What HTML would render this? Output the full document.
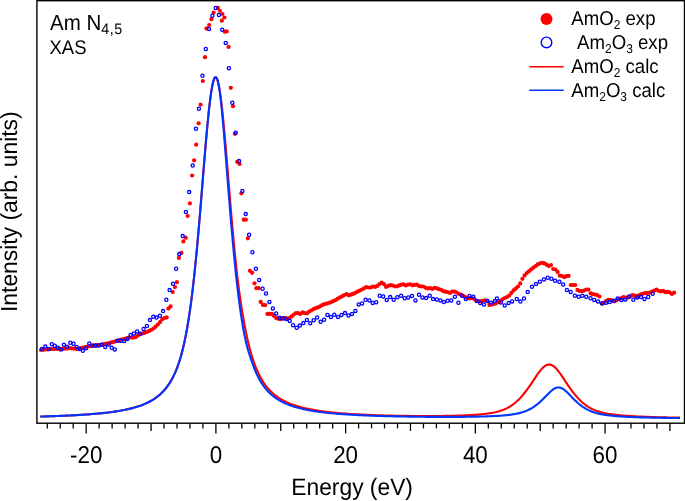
<!DOCTYPE html>
<html><head><meta charset="utf-8"><style>
html,body{margin:0;padding:0;background:#fff;width:685px;height:501px;overflow:hidden}
svg{position:absolute;left:0;top:0;will-change:transform}
svg text{font-family:"Liberation Sans",sans-serif;fill:#000;text-rendering:geometricPrecision}
</style></head><body>
<svg width="685" height="501" viewBox="0 0 685 501" style="position:absolute;left:0;top:0">
<path d="M40.30,416.58L42.30,416.52 44.30,416.46 46.30,416.40 48.30,416.34 50.30,416.27 52.30,416.20 54.30,416.13 56.30,416.06 58.30,415.98 60.30,415.90 62.30,415.82 64.30,415.73 66.30,415.64 68.30,415.55 70.30,415.45 72.30,415.35 74.30,415.25 76.30,415.14 78.30,415.02 80.30,414.90 82.30,414.78 84.30,414.65 86.30,414.51 88.30,414.37 90.30,414.22 92.30,414.06 94.30,413.89 96.30,413.72 98.30,413.54 100.30,413.34 102.30,413.14 104.30,412.93 106.30,412.70 108.30,412.46 110.30,412.21 112.30,411.94 114.30,411.66 116.30,411.36 118.30,411.04 120.30,410.70 122.30,410.34 124.30,409.96 126.30,409.54 128.30,409.10 130.30,408.63 132.30,408.13 134.30,407.58 136.30,406.99 138.30,406.36 140.30,405.68 142.30,404.94 144.30,404.13 146.30,403.26 148.30,402.30 150.30,401.25 152.30,400.11 154.30,398.85 156.30,397.46 158.30,395.91 160.30,394.20 160.90,393.65 161.50,393.08 162.10,392.50 162.70,391.89 163.30,391.26 163.90,390.61 164.50,389.93 165.10,389.23 165.70,388.51 166.30,387.76 166.90,386.98 167.50,386.17 168.10,385.33 168.70,384.46 169.30,383.56 169.90,382.62 170.50,381.64 171.10,380.62 171.70,379.57 172.30,378.47 172.90,377.32 173.50,376.13 174.10,374.88 174.70,373.58 175.30,372.23 175.90,370.81 176.50,369.34 177.10,367.79 177.70,366.18 178.30,364.50 178.90,362.73 179.50,360.89 180.10,358.96 180.70,356.94 181.30,354.83 181.90,352.61 182.50,350.29 183.10,347.86 183.70,345.31 184.30,342.64 184.90,339.84 185.50,336.91 186.10,333.84 186.70,330.63 187.30,327.26 187.90,323.73 188.50,320.04 189.10,316.18 189.70,312.14 190.30,307.93 190.90,303.53 191.50,298.94 192.10,294.15 192.35,292.10 192.60,290.02 192.85,287.90 193.10,285.74 193.35,283.56 193.60,281.33 193.85,279.08 194.10,276.79 194.35,274.46 194.60,272.10 194.85,269.71 195.10,267.28 195.35,264.82 195.60,262.33 195.85,259.80 196.10,257.24 196.35,254.65 196.60,252.02 196.85,249.37 197.10,246.68 197.35,243.97 197.60,241.22 197.85,238.45 198.10,235.65 198.35,232.82 198.60,229.97 198.85,227.09 199.10,224.19 199.35,221.26 199.60,218.32 199.85,215.35 200.10,212.37 200.35,209.37 200.60,206.35 200.85,203.32 201.10,200.28 201.35,197.22 201.60,194.16 201.85,191.09 202.10,188.01 202.35,184.93 202.60,181.85 202.85,178.77 203.10,175.69 203.35,172.62 203.60,169.55 203.85,166.49 204.10,163.44 204.35,160.41 204.60,157.39 204.85,154.39 205.10,151.41 205.35,148.46 205.60,145.53 205.85,142.63 206.10,139.76 206.35,136.92 206.60,134.12 206.85,131.36 207.10,128.64 207.35,125.96 207.60,123.33 207.85,120.75 208.10,118.22 208.35,115.74 208.60,113.32 208.85,110.96 209.10,108.67 209.35,106.43 209.60,104.27 209.85,102.17 210.10,100.14 210.35,98.18 210.60,96.31 210.85,94.50 211.10,92.78 211.35,91.14 211.60,89.59 211.85,88.11 212.10,86.73 212.35,85.43 212.60,84.23 212.85,83.11 213.10,82.09 213.35,81.16 213.60,80.33 213.85,79.59 214.10,78.95 214.35,78.41 214.60,77.96 214.85,77.62 215.10,77.37 215.35,77.23 215.60,77.18 215.85,77.23 216.10,77.39 216.35,77.64 216.60,77.99 216.85,78.44 217.10,78.99 217.35,79.64 217.60,80.38 217.85,81.22 218.10,82.15 218.35,83.18 218.60,84.30 218.85,85.51 219.10,86.81 219.35,88.20 219.60,89.68 219.85,91.24 220.10,92.89 220.35,94.61 220.60,96.42 220.85,98.30 221.10,100.26 221.35,102.29 221.60,104.39 221.85,106.56 222.10,108.80 222.35,111.09 222.60,113.46 222.85,115.88 223.10,118.35 223.35,120.88 223.60,123.46 223.85,126.09 224.10,128.77 224.35,131.48 224.60,134.24 224.85,137.04 225.10,139.87 225.35,142.74 225.60,145.63 225.85,148.56 226.10,151.50 226.35,154.47 226.60,157.46 226.85,160.47 227.10,163.49 227.35,166.53 227.60,169.57 227.85,172.63 228.10,175.69 228.35,178.75 228.60,181.81 228.85,184.87 229.10,187.93 229.35,190.98 229.60,194.03 229.85,197.06 230.10,200.08 230.35,203.10 230.60,206.09 230.85,209.07 231.10,212.03 231.35,214.97 231.60,217.89 231.85,220.79 232.10,223.66 232.35,226.51 232.60,229.32 232.85,232.12 233.10,234.88 233.35,237.61 233.60,240.31 233.85,242.97 234.10,245.60 234.35,248.20 234.60,250.77 234.85,253.29 235.10,255.79 235.35,258.24 235.60,260.66 235.85,263.04 236.10,265.38 236.35,267.68 236.60,269.94 236.85,272.17 237.10,274.36 237.35,276.51 237.60,278.62 237.85,280.69 238.10,282.73 238.35,284.73 238.60,286.69 238.85,288.62 239.10,290.51 239.35,292.37 239.60,294.19 239.85,295.99 240.10,297.75 240.35,299.48 240.60,301.19 240.85,302.86 241.10,304.51 241.35,306.13 241.60,307.73 241.85,309.30 242.10,310.85 242.70,314.47 243.30,317.98 243.90,321.36 244.50,324.64 245.10,327.81 245.70,330.87 246.30,333.82 246.90,336.65 247.50,339.37 248.10,341.98 248.70,344.48 249.30,346.87 249.90,349.15 250.50,351.34 251.10,353.44 251.70,355.45 252.30,357.38 252.90,359.24 253.50,361.03 254.10,362.75 254.70,364.41 255.30,366.01 255.90,367.54 256.50,369.01 257.10,370.42 257.70,371.78 258.30,373.09 258.90,374.34 259.50,375.54 260.10,376.70 260.70,377.81 261.30,378.88 261.90,379.90 262.50,380.89 263.10,381.84 263.70,382.76 264.30,383.64 264.90,384.49 265.50,385.31 266.10,386.09 266.70,386.86 267.30,387.59 267.90,388.30 268.50,388.98 269.10,389.64 269.70,390.28 270.30,390.90 270.90,391.50 271.50,392.08 272.10,392.64 272.70,393.18 273.30,393.70 273.90,394.21 274.50,394.71 275.10,395.18 275.70,395.65 276.30,396.10 276.90,396.53 277.50,396.96 278.10,397.37 278.70,397.77 279.30,398.16 279.90,398.54 280.50,398.90 281.10,399.26 281.70,399.61 282.30,399.95 282.90,400.27 283.50,400.59 284.10,400.91 284.70,401.21 285.30,401.51 285.90,401.79 286.50,402.08 287.10,402.35 287.70,402.62 288.30,402.88 288.90,403.13 289.50,403.38 290.10,403.62 292.10,404.39 294.10,405.10 296.10,405.76 298.10,406.37 300.10,406.94 302.10,407.47 304.10,407.96 306.10,408.43 308.10,408.86 310.10,409.26 312.10,409.65 314.10,410.00 316.10,410.34 318.10,410.66 320.10,410.96 322.10,411.24 324.10,411.50 326.10,411.76 328.10,412.00 330.10,412.22 332.10,412.43 334.10,412.64 336.10,412.83 338.10,413.01 340.10,413.19 342.10,413.35 344.10,413.51 346.10,413.66 348.10,413.80 350.10,413.93 352.10,414.06 354.10,414.18 356.10,414.30 358.10,414.41 360.10,414.52 362.10,414.62 364.10,414.71 366.10,414.80 368.10,414.89 370.10,414.97 372.10,415.05 374.10,415.13 376.10,415.20 378.10,415.27 380.10,415.33 382.10,415.39 384.10,415.45 386.10,415.50 388.10,415.55 390.10,415.60 392.10,415.65 394.10,415.69 396.10,415.73 398.10,415.77 400.10,415.80 402.10,415.84 404.10,415.87 406.10,415.89 408.10,415.92 410.10,415.94 412.10,415.96 414.10,415.98 416.10,415.99 418.10,416.00 420.10,416.01 422.10,416.02 424.10,416.02 426.10,416.03 428.10,416.02 430.10,416.02 432.10,416.01 434.10,416.00 436.10,415.99 438.10,415.97 440.10,415.96 442.10,415.93 444.10,415.91 446.10,415.88 448.10,415.84 450.10,415.80 452.10,415.76 454.10,415.71 456.10,415.66 458.10,415.60 460.10,415.53 462.10,415.46 464.10,415.39 466.10,415.30 468.10,415.21 470.10,415.11 472.10,414.99 474.10,414.87 476.10,414.73 478.10,414.58 480.10,414.42 482.10,414.23 484.10,414.02 486.10,413.79 488.10,413.52 490.10,413.22 492.10,412.88 494.10,412.49 496.10,412.04 498.10,411.52 500.10,410.93 501.10,410.60 502.10,410.25 503.10,409.87 504.10,409.47 505.10,409.04 506.10,408.58 507.10,408.08 508.10,407.56 509.10,407.00 510.10,406.40 511.10,405.76 512.10,405.09 513.10,404.37 514.10,403.61 515.10,402.81 516.10,401.96 517.10,401.07 518.10,400.13 519.10,399.14 520.10,398.11 521.10,397.03 522.10,395.90 523.10,394.72 524.10,393.50 525.10,392.24 526.10,390.93 527.10,389.58 528.10,388.20 529.10,386.78 530.10,385.33 531.10,383.86 532.10,382.37 533.10,380.87 534.10,379.37 535.10,377.87 536.10,376.39 537.10,374.94 538.10,373.52 539.10,372.16 540.10,370.86 541.10,369.65 542.10,368.53 543.10,367.52 544.10,366.64 545.10,365.90 546.10,365.31 547.10,364.88 548.10,364.61 549.10,364.52 550.10,364.61 551.10,364.86 552.10,365.29 553.10,365.88 554.10,366.62 555.10,367.49 556.10,368.50 557.10,369.62 558.10,370.83 559.10,372.13 560.10,373.50 561.10,374.92 562.10,376.38 563.10,377.87 564.10,379.37 565.10,380.88 566.10,382.39 567.10,383.89 568.10,385.37 569.10,386.83 570.10,388.26 571.10,389.66 572.10,391.02 573.10,392.34 574.10,393.62 575.10,394.85 576.10,396.04 577.10,397.18 578.10,398.28 579.10,399.33 580.10,400.33 581.10,401.28 582.10,402.19 583.10,403.05 584.10,403.87 585.10,404.64 586.10,405.37 587.10,406.06 588.10,406.71 589.10,407.32 590.10,407.89 591.10,408.43 592.10,408.94 593.10,409.41 594.10,409.86 595.10,410.27 596.10,410.66 597.10,411.02 598.10,411.37 599.10,411.68 600.10,411.98 601.10,412.26 602.10,412.52 603.10,412.77 604.10,412.99 605.10,413.21 606.10,413.41 607.10,413.60 608.10,413.78 609.10,413.94 610.10,414.10 612.10,414.39 614.10,414.65 616.10,414.88 618.10,415.09 620.10,415.28 622.10,415.46 624.10,415.62 626.10,415.77 628.10,415.91 630.10,416.04 632.10,416.16 634.10,416.27 636.10,416.37 638.10,416.47 640.10,416.56 642.10,416.65 644.10,416.73 646.10,416.81 648.10,416.88 650.10,416.95 652.10,417.02 654.10,417.08 656.10,417.14 658.10,417.20 660.10,417.25 662.10,417.31 664.10,417.35 666.10,417.40 668.10,417.45 670.10,417.49 672.10,417.53 674.10,417.57 676.10,417.61 678.10,417.64 680.00,417.67" fill="none" stroke="#ff0000" stroke-width="2.1" stroke-linejoin="round"/>
<path d="M40.30,416.55L42.30,416.49 44.30,416.43 46.30,416.37 48.30,416.31 50.30,416.24 52.30,416.17 54.30,416.10 56.30,416.03 58.30,415.95 60.30,415.87 62.30,415.79 64.30,415.71 66.30,415.62 68.30,415.52 70.30,415.43 72.30,415.33 74.30,415.22 76.30,415.11 78.30,415.00 80.30,414.88 82.30,414.76 84.30,414.62 86.30,414.49 88.30,414.35 90.30,414.20 92.30,414.04 94.30,413.87 96.30,413.70 98.30,413.52 100.30,413.32 102.30,413.12 104.30,412.91 106.30,412.68 108.30,412.45 110.30,412.19 112.30,411.93 114.30,411.65 116.30,411.35 118.30,411.03 120.30,410.69 122.30,410.33 124.30,409.94 126.30,409.53 128.30,409.09 130.30,408.62 132.30,408.11 134.30,407.57 136.30,406.98 138.30,406.35 140.30,405.67 142.30,404.93 144.30,404.12 146.30,403.25 148.30,402.29 150.30,401.25 152.30,400.10 154.30,398.84 156.30,397.45 158.30,395.91 160.30,394.20 160.90,393.65 161.50,393.08 162.10,392.49 162.70,391.88 163.30,391.25 163.90,390.60 164.50,389.93 165.10,389.23 165.70,388.51 166.30,387.76 166.90,386.98 167.50,386.17 168.10,385.33 168.70,384.46 169.30,383.56 169.90,382.62 170.50,381.64 171.10,380.62 171.70,379.57 172.30,378.47 172.90,377.32 173.50,376.13 174.10,374.88 174.70,373.58 175.30,372.23 175.90,370.81 176.50,369.34 177.10,367.80 177.70,366.18 178.30,364.50 178.90,362.74 179.50,360.89 180.10,358.96 180.70,356.94 181.30,354.83 181.90,352.61 182.50,350.29 183.10,347.86 183.70,345.32 184.30,342.65 184.90,339.85 185.50,336.92 186.10,333.85 186.70,330.63 187.30,327.26 187.90,323.74 188.50,320.05 189.10,316.19 189.70,312.15 190.30,307.93 190.90,303.53 191.50,298.94 192.10,294.16 192.35,292.11 192.60,290.02 192.85,287.91 193.10,285.75 193.35,283.57 193.60,281.34 193.85,279.09 194.10,276.80 194.35,274.47 194.60,272.11 194.85,269.72 195.10,267.29 195.35,264.83 195.60,262.33 195.85,259.81 196.10,257.25 196.35,254.66 196.60,252.03 196.85,249.38 197.10,246.69 197.35,243.98 197.60,241.23 197.85,238.46 198.10,235.66 198.35,232.83 198.60,229.98 198.85,227.10 199.10,224.20 199.35,221.28 199.60,218.33 199.85,215.37 200.10,212.38 200.35,209.38 200.60,206.37 200.85,203.33 201.10,200.29 201.35,197.24 201.60,194.17 201.85,191.10 202.10,188.03 202.35,184.95 202.60,181.86 202.85,178.78 203.10,175.70 203.35,172.63 203.60,169.56 203.85,166.50 204.10,163.45 204.35,160.42 204.60,157.40 204.85,154.40 205.10,151.43 205.35,148.47 205.60,145.54 205.85,142.64 206.10,139.77 206.35,136.93 206.60,134.13 206.85,131.37 207.10,128.65 207.35,125.97 207.60,123.34 207.85,120.76 208.10,118.23 208.35,115.76 208.60,113.34 208.85,110.98 209.10,108.68 209.35,106.45 209.60,104.28 209.85,102.18 210.10,100.16 210.35,98.20 210.60,96.32 210.85,94.52 211.10,92.80 211.35,91.16 211.60,89.60 211.85,88.13 212.10,86.75 212.35,85.45 212.60,84.24 212.85,83.13 213.10,82.11 213.35,81.18 213.60,80.35 213.85,79.61 214.10,78.97 214.35,78.43 214.60,77.98 214.85,77.64 215.10,77.39 215.35,77.25 215.60,77.20 215.85,77.27 216.10,77.44 216.35,77.72 216.60,78.10 216.85,78.58 217.10,79.18 217.35,79.87 217.60,80.68 217.85,81.58 218.10,82.60 218.35,83.72 218.60,84.95 218.85,86.29 219.10,87.73 219.35,89.28 219.60,90.93 219.85,92.69 220.10,94.55 220.35,96.52 220.60,98.58 220.85,100.74 221.10,103.00 221.35,105.34 221.60,107.78 221.85,110.30 222.10,112.89 222.35,115.55 222.60,118.29 222.85,121.08 223.10,123.93 223.35,126.83 223.60,129.77 223.85,132.75 224.10,135.77 224.35,138.82 224.60,141.89 224.85,144.98 225.10,148.10 225.35,151.22 225.60,154.36 225.85,157.51 226.10,160.66 226.35,163.82 226.60,166.98 226.85,170.15 227.10,173.31 227.35,176.47 227.60,179.62 227.85,182.77 228.10,185.91 228.35,189.04 228.60,192.17 228.85,195.28 229.10,198.37 229.35,201.46 229.60,204.53 229.85,207.58 230.10,210.61 230.35,213.62 230.60,216.62 230.85,219.59 231.10,222.54 231.35,225.46 231.60,228.36 231.85,231.24 232.10,234.09 232.35,236.91 232.60,239.71 232.85,242.47 233.10,245.21 233.35,247.91 233.60,250.59 233.85,253.23 234.10,255.84 234.35,258.42 234.60,260.97 234.85,263.48 235.10,265.96 235.35,268.41 235.60,270.82 235.85,273.20 236.10,275.54 236.35,277.85 236.60,280.13 236.85,282.37 237.10,284.58 237.35,286.75 237.60,288.88 237.85,290.99 238.10,293.06 238.35,295.09 238.60,297.09 238.85,299.06 239.10,300.99 239.35,302.89 239.60,304.76 239.85,306.59 240.10,308.39 240.35,310.16 240.60,311.90 240.85,313.60 241.10,315.28 241.35,316.92 241.60,318.53 241.85,320.12 242.10,321.67 242.70,325.27 243.30,328.71 243.90,331.98 244.50,335.09 245.10,338.04 245.70,340.82 246.30,343.43 246.90,345.87 247.50,348.13 248.10,350.22 248.70,352.18 249.30,354.04 249.90,355.85 250.50,357.64 251.10,359.43 251.70,361.19 252.30,362.93 252.90,364.62 253.50,366.26 254.10,367.84 254.70,369.37 255.30,370.83 255.90,372.24 256.50,373.59 257.10,374.88 257.70,376.13 258.30,377.32 258.90,378.46 259.50,379.56 260.10,380.61 260.70,381.63 261.30,382.60 261.90,383.54 262.50,384.44 263.10,385.31 263.70,386.15 264.30,386.96 264.90,387.73 265.50,388.48 266.10,389.20 266.70,389.90 267.30,390.57 267.90,391.22 268.50,391.85 269.10,392.46 269.70,393.05 270.30,393.61 270.90,394.16 271.50,394.70 272.10,395.21 272.70,395.71 273.30,396.19 273.90,396.66 274.50,397.11 275.10,397.55 275.70,397.98 276.30,398.39 276.90,398.79 277.50,399.18 278.10,399.56 278.70,399.93 279.30,400.29 279.90,400.64 280.50,400.97 281.10,401.30 281.70,401.62 282.30,401.93 282.90,402.24 283.50,402.53 284.10,402.82 284.70,403.10 285.30,403.37 285.90,403.63 286.50,403.89 287.10,404.14 287.70,404.39 288.30,404.63 288.90,404.86 289.50,405.09 290.10,405.31 292.10,406.01 294.10,406.66 296.10,407.27 298.10,407.82 300.10,408.34 302.10,408.82 304.10,409.27 306.10,409.69 308.10,410.08 310.10,410.45 312.10,410.80 314.10,411.12 316.10,411.42 318.10,411.71 320.10,411.98 322.10,412.23 324.10,412.47 326.10,412.70 328.10,412.92 330.10,413.12 332.10,413.31 334.10,413.49 336.10,413.67 338.10,413.83 340.10,413.99 342.10,414.14 344.10,414.28 346.10,414.41 348.10,414.54 350.10,414.67 352.10,414.78 354.10,414.89 356.10,415.00 358.10,415.10 360.10,415.20 362.10,415.29 364.10,415.38 366.10,415.47 368.10,415.55 370.10,415.63 372.10,415.70 374.10,415.77 376.10,415.84 378.10,415.91 380.10,415.97 382.10,416.03 384.10,416.09 386.10,416.14 388.10,416.19 390.10,416.24 392.10,416.29 394.10,416.34 396.10,416.38 398.10,416.42 400.10,416.46 402.10,416.50 404.10,416.54 406.10,416.57 408.10,416.61 410.10,416.64 412.10,416.67 414.10,416.69 416.10,416.72 418.10,416.74 420.10,416.77 422.10,416.79 424.10,416.81 426.10,416.83 428.10,416.84 430.10,416.86 432.10,416.87 434.10,416.88 436.10,416.89 438.10,416.90 440.10,416.91 442.10,416.91 444.10,416.92 446.10,416.92 448.10,416.92 450.10,416.92 452.10,416.91 454.10,416.91 456.10,416.90 458.10,416.89 460.10,416.87 462.10,416.86 464.10,416.84 466.10,416.82 468.10,416.79 470.10,416.77 472.10,416.73 474.10,416.70 476.10,416.66 478.10,416.62 480.10,416.57 482.10,416.52 484.10,416.46 486.10,416.39 488.10,416.32 490.10,416.24 492.10,416.16 494.10,416.06 496.10,415.95 498.10,415.84 500.10,415.70 501.10,415.63 502.10,415.56 503.10,415.48 504.10,415.39 505.10,415.30 506.10,415.20 507.10,415.10 508.10,414.99 509.10,414.87 510.10,414.75 511.10,414.62 512.10,414.47 513.10,414.32 514.10,414.15 515.10,413.98 516.10,413.79 517.10,413.58 518.10,413.36 519.10,413.13 520.10,412.87 521.10,412.60 522.10,412.31 523.10,411.99 524.10,411.65 525.10,411.29 526.10,410.89 527.10,410.48 528.10,410.03 529.10,409.55 530.10,409.03 531.10,408.49 532.10,407.91 533.10,407.29 534.10,406.63 535.10,405.94 536.10,405.21 537.10,404.44 538.10,403.63 539.10,402.78 540.10,401.90 541.10,400.98 542.10,400.03 543.10,399.05 544.10,398.05 545.10,397.03 546.10,396.00 547.10,394.97 548.10,393.94 549.10,392.94 550.10,391.98 551.10,391.07 552.10,390.22 553.10,389.46 554.10,388.79 555.10,388.25 556.10,387.83 557.10,387.56 558.10,387.43 559.10,387.46 560.10,387.64 561.10,387.96 562.10,388.42 563.10,389.01 564.10,389.71 565.10,390.51 566.10,391.38 567.10,392.32 568.10,393.30 569.10,394.32 570.10,395.35 571.10,396.39 572.10,397.43 573.10,398.45 574.10,399.45 575.10,400.43 576.10,401.38 577.10,402.30 578.10,403.18 579.10,404.02 580.10,404.83 581.10,405.59 582.10,406.32 583.10,407.01 584.10,407.66 585.10,408.28 586.10,408.86 587.10,409.40 588.10,409.91 589.10,410.39 590.10,410.84 591.10,411.26 592.10,411.65 593.10,412.02 594.10,412.36 595.10,412.67 596.10,412.97 597.10,413.24 598.10,413.50 599.10,413.74 600.10,413.96 601.10,414.17 602.10,414.37 603.10,414.55 604.10,414.72 605.10,414.88 606.10,415.02 607.10,415.16 608.10,415.29 609.10,415.42 610.10,415.53 612.10,415.75 614.10,415.94 616.10,416.11 618.10,416.26 620.10,416.40 622.10,416.53 624.10,416.65 626.10,416.76 628.10,416.86 630.10,416.95 632.10,417.04 634.10,417.12 636.10,417.19 638.10,417.26 640.10,417.33 642.10,417.39 644.10,417.45 646.10,417.50 648.10,417.55 650.10,417.60 652.10,417.65 654.10,417.69 656.10,417.73 658.10,417.77 660.10,417.80 662.10,417.84 664.10,417.87 666.10,417.90 668.10,417.93 670.10,417.96 672.10,417.99 674.10,418.01 676.10,418.04 678.10,418.06 680.00,418.08" fill="none" stroke="#0036ff" stroke-width="2.1" stroke-linejoin="round"/>
<g fill="#ff0000">
<circle cx="41.0" cy="350.0" r="2.1"/>
<circle cx="43.2" cy="349.8" r="2.1"/>
<circle cx="45.4" cy="349.5" r="2.1"/>
<circle cx="47.6" cy="349.3" r="2.1"/>
<circle cx="49.8" cy="349.0" r="2.1"/>
<circle cx="52.0" cy="349.0" r="2.1"/>
<circle cx="54.2" cy="349.0" r="2.1"/>
<circle cx="56.4" cy="349.0" r="2.1"/>
<circle cx="58.6" cy="349.0" r="2.1"/>
<circle cx="60.8" cy="348.9" r="2.1"/>
<circle cx="63.1" cy="348.8" r="2.1"/>
<circle cx="65.3" cy="348.6" r="2.1"/>
<circle cx="67.5" cy="348.4" r="2.1"/>
<circle cx="69.7" cy="348.2" r="2.1"/>
<circle cx="71.9" cy="348.4" r="2.1"/>
<circle cx="74.1" cy="348.6" r="2.1"/>
<circle cx="76.3" cy="348.8" r="2.1"/>
<circle cx="78.5" cy="348.9" r="2.1"/>
<circle cx="80.7" cy="348.2" r="2.1"/>
<circle cx="82.9" cy="347.6" r="2.1"/>
<circle cx="85.1" cy="347.0" r="2.1"/>
<circle cx="87.3" cy="346.6" r="2.1"/>
<circle cx="89.5" cy="346.2" r="2.1"/>
<circle cx="91.7" cy="345.7" r="2.1"/>
<circle cx="93.9" cy="345.4" r="2.1"/>
<circle cx="96.1" cy="345.2" r="2.1"/>
<circle cx="98.3" cy="345.0" r="2.1"/>
<circle cx="100.5" cy="344.8" r="2.1"/>
<circle cx="102.7" cy="344.4" r="2.1"/>
<circle cx="105.0" cy="343.9" r="2.1"/>
<circle cx="107.2" cy="343.5" r="2.1"/>
<circle cx="109.4" cy="343.0" r="2.1"/>
<circle cx="111.6" cy="342.4" r="2.1"/>
<circle cx="113.8" cy="341.8" r="2.1"/>
<circle cx="116.0" cy="341.2" r="2.1"/>
<circle cx="118.2" cy="340.5" r="2.1"/>
<circle cx="120.4" cy="339.9" r="2.1"/>
<circle cx="122.6" cy="339.3" r="2.1"/>
<circle cx="124.8" cy="338.8" r="2.1"/>
<circle cx="127.0" cy="338.2" r="2.1"/>
<circle cx="129.2" cy="337.6" r="2.1"/>
<circle cx="131.4" cy="337.5" r="2.1"/>
<circle cx="133.6" cy="337.6" r="2.1"/>
<circle cx="135.8" cy="337.1" r="2.1"/>
<circle cx="138.0" cy="335.5" r="2.1"/>
<circle cx="140.2" cy="334.0" r="2.1"/>
<circle cx="142.4" cy="333.5" r="2.1"/>
<circle cx="144.6" cy="332.8" r="2.1"/>
<circle cx="146.9" cy="332.0" r="2.1"/>
<circle cx="149.1" cy="330.9" r="2.1"/>
<circle cx="151.3" cy="329.8" r="2.1"/>
<circle cx="153.5" cy="328.5" r="2.1"/>
<circle cx="155.7" cy="326.6" r="2.1"/>
<circle cx="157.9" cy="324.5" r="2.1"/>
<circle cx="160.1" cy="322.1" r="2.1"/>
<circle cx="162.3" cy="319.2" r="2.1"/>
<circle cx="164.5" cy="318.0" r="2.1"/>
<circle cx="166.7" cy="317.4" r="2.1"/>
<circle cx="168.4" cy="308.6" r="2.1"/>
<circle cx="170.5" cy="306.4" r="2.1"/>
<circle cx="172.7" cy="292.0" r="2.1"/>
<circle cx="175.0" cy="287.1" r="2.1"/>
<circle cx="176.9" cy="282.2" r="2.1"/>
<circle cx="178.9" cy="257.9" r="2.1"/>
<circle cx="181.4" cy="252.9" r="2.1"/>
<circle cx="183.4" cy="241.4" r="2.1"/>
<circle cx="185.7" cy="237.7" r="2.1"/>
<circle cx="187.7" cy="216.0" r="2.1"/>
<circle cx="189.9" cy="203.4" r="2.1"/>
<circle cx="192.1" cy="175.5" r="2.1"/>
<circle cx="194.1" cy="160.3" r="2.1"/>
<circle cx="196.2" cy="144.7" r="2.1"/>
<circle cx="198.6" cy="123.3" r="2.1"/>
<circle cx="200.6" cy="104.7" r="2.1"/>
<circle cx="202.8" cy="81.0" r="2.1"/>
<circle cx="205.0" cy="57.2" r="2.1"/>
<circle cx="206.5" cy="28.4" r="2.1"/>
<circle cx="209.2" cy="25.0" r="2.1"/>
<circle cx="211.4" cy="19.2" r="2.1"/>
<circle cx="213.6" cy="12.5" r="2.1"/>
<circle cx="217.9" cy="7.8" r="2.1"/>
<circle cx="219.9" cy="10.8" r="2.1"/>
<circle cx="222.4" cy="14.0" r="2.1"/>
<circle cx="224.4" cy="17.5" r="2.1"/>
<circle cx="221.9" cy="20.7" r="2.1"/>
<circle cx="224.7" cy="31.7" r="2.1"/>
<circle cx="226.7" cy="31.4" r="2.1"/>
<circle cx="228.6" cy="46.9" r="2.1"/>
<circle cx="230.8" cy="87.8" r="2.1"/>
<circle cx="233.0" cy="106.2" r="2.1"/>
<circle cx="234.9" cy="133.8" r="2.1"/>
<circle cx="237.2" cy="161.9" r="2.1"/>
<circle cx="239.5" cy="163.9" r="2.1"/>
<circle cx="241.4" cy="193.3" r="2.1"/>
<circle cx="243.7" cy="219.7" r="2.1"/>
<circle cx="245.9" cy="219.7" r="2.1"/>
<circle cx="247.9" cy="238.3" r="2.1"/>
<circle cx="250.0" cy="270.8" r="2.1"/>
<circle cx="252.2" cy="272.8" r="2.1"/>
<circle cx="254.5" cy="283.3" r="2.1"/>
<circle cx="256.4" cy="288.2" r="2.1"/>
<circle cx="258.7" cy="288.2" r="2.1"/>
<circle cx="260.7" cy="301.9" r="2.1"/>
<circle cx="262.9" cy="304.9" r="2.1"/>
<circle cx="265.2" cy="305.1" r="2.1"/>
<circle cx="267.4" cy="313.9" r="2.1"/>
<circle cx="269.7" cy="313.9" r="2.1"/>
<circle cx="271.9" cy="313.9" r="2.1"/>
<circle cx="274.0" cy="316.0" r="2.1"/>
<circle cx="276.2" cy="318.1" r="2.1"/>
<circle cx="278.4" cy="318.8" r="2.1"/>
<circle cx="280.6" cy="319.1" r="2.1"/>
<circle cx="282.8" cy="318.0" r="2.1"/>
<circle cx="285.0" cy="317.8" r="2.1"/>
<circle cx="287.2" cy="318.6" r="2.1"/>
<circle cx="289.4" cy="318.0" r="2.1"/>
<circle cx="291.6" cy="316.4" r="2.1"/>
<circle cx="293.8" cy="314.6" r="2.1"/>
<circle cx="296.0" cy="313.1" r="2.1"/>
<circle cx="298.2" cy="313.2" r="2.1"/>
<circle cx="300.4" cy="314.1" r="2.1"/>
<circle cx="302.6" cy="312.3" r="2.1"/>
<circle cx="304.8" cy="313.2" r="2.1"/>
<circle cx="307.0" cy="313.3" r="2.1"/>
<circle cx="309.2" cy="311.6" r="2.1"/>
<circle cx="311.4" cy="310.3" r="2.1"/>
<circle cx="313.6" cy="309.1" r="2.1"/>
<circle cx="315.8" cy="308.1" r="2.1"/>
<circle cx="318.0" cy="307.4" r="2.1"/>
<circle cx="320.2" cy="306.3" r="2.1"/>
<circle cx="322.4" cy="304.9" r="2.1"/>
<circle cx="324.6" cy="304.1" r="2.1"/>
<circle cx="326.8" cy="303.6" r="2.1"/>
<circle cx="329.0" cy="302.9" r="2.1"/>
<circle cx="331.2" cy="302.1" r="2.1"/>
<circle cx="333.4" cy="301.1" r="2.1"/>
<circle cx="335.6" cy="300.1" r="2.1"/>
<circle cx="337.8" cy="298.7" r="2.1"/>
<circle cx="340.0" cy="297.4" r="2.1"/>
<circle cx="342.1" cy="296.3" r="2.1"/>
<circle cx="344.3" cy="295.1" r="2.1"/>
<circle cx="346.5" cy="294.0" r="2.1"/>
<circle cx="348.7" cy="295.3" r="2.1"/>
<circle cx="350.9" cy="294.7" r="2.1"/>
<circle cx="353.1" cy="293.9" r="2.1"/>
<circle cx="355.3" cy="292.8" r="2.1"/>
<circle cx="357.5" cy="291.7" r="2.1"/>
<circle cx="359.7" cy="290.6" r="2.1"/>
<circle cx="361.9" cy="289.5" r="2.1"/>
<circle cx="364.1" cy="288.3" r="2.1"/>
<circle cx="366.3" cy="287.0" r="2.1"/>
<circle cx="368.5" cy="287.5" r="2.1"/>
<circle cx="370.7" cy="287.5" r="2.1"/>
<circle cx="372.9" cy="286.5" r="2.1"/>
<circle cx="375.1" cy="286.9" r="2.1"/>
<circle cx="377.3" cy="285.9" r="2.1"/>
<circle cx="379.5" cy="284.1" r="2.1"/>
<circle cx="381.7" cy="282.7" r="2.1"/>
<circle cx="383.9" cy="284.2" r="2.1"/>
<circle cx="386.1" cy="286.9" r="2.1"/>
<circle cx="388.3" cy="285.8" r="2.1"/>
<circle cx="390.5" cy="285.1" r="2.1"/>
<circle cx="392.7" cy="285.5" r="2.1"/>
<circle cx="394.9" cy="286.3" r="2.1"/>
<circle cx="397.1" cy="286.3" r="2.1"/>
<circle cx="399.3" cy="285.4" r="2.1"/>
<circle cx="401.5" cy="284.6" r="2.1"/>
<circle cx="403.7" cy="284.4" r="2.1"/>
<circle cx="405.9" cy="285.5" r="2.1"/>
<circle cx="408.1" cy="284.6" r="2.1"/>
<circle cx="410.3" cy="284.3" r="2.1"/>
<circle cx="412.5" cy="285.3" r="2.1"/>
<circle cx="414.7" cy="284.8" r="2.1"/>
<circle cx="416.9" cy="284.7" r="2.1"/>
<circle cx="419.1" cy="286.0" r="2.1"/>
<circle cx="421.3" cy="286.5" r="2.1"/>
<circle cx="423.5" cy="286.5" r="2.1"/>
<circle cx="425.7" cy="287.8" r="2.1"/>
<circle cx="427.9" cy="288.4" r="2.1"/>
<circle cx="430.1" cy="288.2" r="2.1"/>
<circle cx="432.3" cy="288.9" r="2.1"/>
<circle cx="434.5" cy="287.8" r="2.1"/>
<circle cx="436.7" cy="288.3" r="2.1"/>
<circle cx="438.9" cy="289.2" r="2.1"/>
<circle cx="441.1" cy="289.8" r="2.1"/>
<circle cx="443.3" cy="291.2" r="2.1"/>
<circle cx="445.5" cy="291.7" r="2.1"/>
<circle cx="447.7" cy="292.0" r="2.1"/>
<circle cx="449.9" cy="293.0" r="2.1"/>
<circle cx="452.1" cy="291.7" r="2.1"/>
<circle cx="454.3" cy="291.5" r="2.1"/>
<circle cx="456.5" cy="292.3" r="2.1"/>
<circle cx="458.7" cy="293.8" r="2.1"/>
<circle cx="460.9" cy="294.7" r="2.1"/>
<circle cx="463.1" cy="295.8" r="2.1"/>
<circle cx="465.3" cy="297.1" r="2.1"/>
<circle cx="467.5" cy="297.9" r="2.1"/>
<circle cx="469.7" cy="298.3" r="2.1"/>
<circle cx="471.9" cy="298.1" r="2.1"/>
<circle cx="474.1" cy="298.8" r="2.1"/>
<circle cx="476.2" cy="300.5" r="2.1"/>
<circle cx="478.4" cy="301.0" r="2.1"/>
<circle cx="480.6" cy="301.3" r="2.1"/>
<circle cx="482.8" cy="300.8" r="2.1"/>
<circle cx="485.0" cy="300.3" r="2.1"/>
<circle cx="487.2" cy="300.6" r="2.1"/>
<circle cx="489.4" cy="304.9" r="2.1"/>
<circle cx="491.6" cy="304.6" r="2.1"/>
<circle cx="493.8" cy="304.1" r="2.1"/>
<circle cx="496.0" cy="303.3" r="2.1"/>
<circle cx="498.2" cy="302.2" r="2.1"/>
<circle cx="500.4" cy="300.8" r="2.1"/>
<circle cx="502.6" cy="299.3" r="2.1"/>
<circle cx="504.8" cy="298.0" r="2.1"/>
<circle cx="507.0" cy="297.0" r="2.1"/>
<circle cx="509.2" cy="295.5" r="2.1"/>
<circle cx="511.4" cy="292.9" r="2.1"/>
<circle cx="513.6" cy="290.4" r="2.1"/>
<circle cx="515.8" cy="288.6" r="2.1"/>
<circle cx="518.0" cy="286.5" r="2.1"/>
<circle cx="520.2" cy="283.4" r="2.1"/>
<circle cx="522.4" cy="278.8" r="2.1"/>
<circle cx="524.6" cy="275.4" r="2.1"/>
<circle cx="526.8" cy="273.1" r="2.1"/>
<circle cx="529.0" cy="271.2" r="2.1"/>
<circle cx="531.2" cy="269.3" r="2.1"/>
<circle cx="533.4" cy="267.7" r="2.1"/>
<circle cx="535.6" cy="266.0" r="2.1"/>
<circle cx="537.8" cy="264.4" r="2.1"/>
<circle cx="540.0" cy="263.3" r="2.1"/>
<circle cx="542.2" cy="262.8" r="2.1"/>
<circle cx="544.4" cy="263.4" r="2.1"/>
<circle cx="546.6" cy="264.7" r="2.1"/>
<circle cx="548.8" cy="266.1" r="2.1"/>
<circle cx="551.0" cy="265.1" r="2.1"/>
<circle cx="553.2" cy="269.0" r="2.1"/>
<circle cx="555.4" cy="269.5" r="2.1"/>
<circle cx="557.6" cy="271.9" r="2.1"/>
<circle cx="559.8" cy="275.6" r="2.1"/>
<circle cx="562.0" cy="276.0" r="2.1"/>
<circle cx="564.2" cy="277.2" r="2.1"/>
<circle cx="566.4" cy="276.1" r="2.1"/>
<circle cx="568.6" cy="275.9" r="2.1"/>
<circle cx="570.8" cy="285.0" r="2.1"/>
<circle cx="573.0" cy="285.0" r="2.1"/>
<circle cx="575.2" cy="285.0" r="2.1"/>
<circle cx="577.4" cy="289.9" r="2.1"/>
<circle cx="579.6" cy="291.0" r="2.1"/>
<circle cx="581.8" cy="291.1" r="2.1"/>
<circle cx="584.0" cy="290.6" r="2.1"/>
<circle cx="586.2" cy="289.5" r="2.1"/>
<circle cx="588.4" cy="289.6" r="2.1"/>
<circle cx="590.6" cy="293.4" r="2.1"/>
<circle cx="592.8" cy="294.2" r="2.1"/>
<circle cx="595.0" cy="294.5" r="2.1"/>
<circle cx="597.2" cy="295.1" r="2.1"/>
<circle cx="599.4" cy="296.5" r="2.1"/>
<circle cx="601.6" cy="303.4" r="2.1"/>
<circle cx="603.8" cy="302.8" r="2.1"/>
<circle cx="606.0" cy="301.0" r="2.1"/>
<circle cx="608.1" cy="299.9" r="2.1"/>
<circle cx="610.3" cy="299.8" r="2.1"/>
<circle cx="612.5" cy="300.6" r="2.1"/>
<circle cx="614.7" cy="301.3" r="2.1"/>
<circle cx="616.9" cy="300.1" r="2.1"/>
<circle cx="619.1" cy="299.0" r="2.1"/>
<circle cx="621.3" cy="298.2" r="2.1"/>
<circle cx="623.5" cy="297.2" r="2.1"/>
<circle cx="625.7" cy="297.6" r="2.1"/>
<circle cx="627.9" cy="297.6" r="2.1"/>
<circle cx="630.1" cy="296.6" r="2.1"/>
<circle cx="632.3" cy="295.1" r="2.1"/>
<circle cx="634.5" cy="295.7" r="2.1"/>
<circle cx="636.7" cy="296.4" r="2.1"/>
<circle cx="638.9" cy="295.4" r="2.1"/>
<circle cx="641.1" cy="294.4" r="2.1"/>
<circle cx="643.3" cy="293.6" r="2.1"/>
<circle cx="645.5" cy="293.2" r="2.1"/>
<circle cx="647.7" cy="293.0" r="2.1"/>
<circle cx="649.9" cy="292.7" r="2.1"/>
<circle cx="652.1" cy="291.6" r="2.1"/>
<circle cx="654.3" cy="290.6" r="2.1"/>
<circle cx="656.5" cy="289.7" r="2.1"/>
<circle cx="658.7" cy="290.8" r="2.1"/>
<circle cx="660.9" cy="291.4" r="2.1"/>
<circle cx="663.1" cy="290.8" r="2.1"/>
<circle cx="665.3" cy="292.2" r="2.1"/>
<circle cx="667.5" cy="291.9" r="2.1"/>
<circle cx="669.7" cy="292.4" r="2.1"/>
<circle cx="671.9" cy="294.0" r="2.1"/>
<circle cx="674.1" cy="292.7" r="2.1"/>
</g>
<g fill="none" stroke="#0000ff" stroke-width="1.3">
<circle cx="42.0" cy="348.9" r="1.6"/>
<circle cx="45.3" cy="346.6" r="1.6"/>
<circle cx="48.7" cy="348.9" r="1.6"/>
<circle cx="51.7" cy="344.3" r="1.6"/>
<circle cx="54.7" cy="345.7" r="1.6"/>
<circle cx="57.8" cy="347.7" r="1.6"/>
<circle cx="61.0" cy="349.6" r="1.6"/>
<circle cx="63.9" cy="344.8" r="1.6"/>
<circle cx="67.1" cy="346.7" r="1.6"/>
<circle cx="70.3" cy="342.8" r="1.6"/>
<circle cx="73.5" cy="343.8" r="1.6"/>
<circle cx="76.7" cy="346.9" r="1.6"/>
<circle cx="79.7" cy="348.9" r="1.6"/>
<circle cx="82.9" cy="350.7" r="1.6"/>
<circle cx="86.1" cy="348.2" r="1.6"/>
<circle cx="89.3" cy="343.5" r="1.6"/>
<circle cx="92.5" cy="345.7" r="1.6"/>
<circle cx="95.6" cy="345.7" r="1.6"/>
<circle cx="98.7" cy="345.4" r="1.6"/>
<circle cx="101.8" cy="344.7" r="1.6"/>
<circle cx="105.2" cy="347.1" r="1.6"/>
<circle cx="108.5" cy="344.4" r="1.6"/>
<circle cx="111.7" cy="347.7" r="1.6"/>
<circle cx="114.8" cy="349.4" r="1.6"/>
<circle cx="117.8" cy="340.7" r="1.6"/>
<circle cx="121.0" cy="340.7" r="1.6"/>
<circle cx="124.2" cy="341.1" r="1.6"/>
<circle cx="127.4" cy="339.1" r="1.6"/>
<circle cx="130.6" cy="334.9" r="1.6"/>
<circle cx="133.9" cy="333.4" r="1.6"/>
<circle cx="137.1" cy="331.4" r="1.6"/>
<circle cx="140.4" cy="333.7" r="1.6"/>
<circle cx="143.6" cy="329.0" r="1.6"/>
<circle cx="146.9" cy="326.0" r="1.6"/>
<circle cx="150.0" cy="320.1" r="1.6"/>
<circle cx="153.3" cy="316.7" r="1.6"/>
<circle cx="156.5" cy="317.6" r="1.6"/>
<circle cx="159.9" cy="315.7" r="1.6"/>
<circle cx="163.1" cy="311.1" r="1.6"/>
<circle cx="166.3" cy="299.8" r="1.6"/>
<circle cx="169.6" cy="290.1" r="1.6"/>
<circle cx="173.0" cy="283.8" r="1.6"/>
<circle cx="176.1" cy="268.7" r="1.6"/>
<circle cx="179.2" cy="254.1" r="1.6"/>
<circle cx="182.7" cy="236.1" r="1.6"/>
<circle cx="185.9" cy="212.0" r="1.6"/>
<circle cx="189.2" cy="192.1" r="1.6"/>
<circle cx="192.7" cy="165.5" r="1.6"/>
<circle cx="195.9" cy="128.7" r="1.6"/>
<circle cx="198.9" cy="108.7" r="1.6"/>
<circle cx="202.5" cy="75.7" r="1.6"/>
<circle cx="205.8" cy="49.0" r="1.6"/>
<circle cx="209.0" cy="28.9" r="1.6"/>
<circle cx="212.4" cy="15.7" r="1.6"/>
<circle cx="215.7" cy="8.0" r="1.6"/>
<circle cx="218.9" cy="15.0" r="1.6"/>
<circle cx="222.2" cy="29.7" r="1.6"/>
<circle cx="225.7" cy="42.9" r="1.6"/>
<circle cx="228.9" cy="68.2" r="1.6"/>
<circle cx="232.3" cy="102.8" r="1.6"/>
<circle cx="235.7" cy="132.8" r="1.6"/>
<circle cx="239.0" cy="161.1" r="1.6"/>
<circle cx="242.4" cy="191.0" r="1.6"/>
<circle cx="245.7" cy="214.1" r="1.6"/>
<circle cx="249.1" cy="234.7" r="1.6"/>
<circle cx="252.4" cy="252.2" r="1.6"/>
<circle cx="255.9" cy="268.8" r="1.6"/>
<circle cx="259.2" cy="280.0" r="1.6"/>
<circle cx="262.6" cy="288.7" r="1.6"/>
<circle cx="266.0" cy="293.5" r="1.6"/>
<circle cx="269.4" cy="301.9" r="1.6"/>
<circle cx="272.8" cy="308.4" r="1.6"/>
<circle cx="276.2" cy="313.4" r="1.6"/>
<circle cx="279.5" cy="317.7" r="1.6"/>
<circle cx="283.0" cy="318.4" r="1.6"/>
<circle cx="286.3" cy="318.9" r="1.6"/>
<circle cx="289.7" cy="320.9" r="1.6"/>
<circle cx="293.1" cy="325.2" r="1.6"/>
<circle cx="296.7" cy="327.7" r="1.6"/>
<circle cx="299.9" cy="325.6" r="1.6"/>
<circle cx="303.4" cy="323.1" r="1.6"/>
<circle cx="306.9" cy="319.9" r="1.6"/>
<circle cx="310.2" cy="323.2" r="1.6"/>
<circle cx="313.7" cy="320.2" r="1.6"/>
<circle cx="317.1" cy="317.4" r="1.6"/>
<circle cx="320.6" cy="321.7" r="1.6"/>
<circle cx="324.1" cy="319.7" r="1.6"/>
<circle cx="327.4" cy="314.9" r="1.6"/>
<circle cx="330.9" cy="316.9" r="1.6"/>
<circle cx="334.3" cy="314.7" r="1.6"/>
<circle cx="338.0" cy="316.9" r="1.6"/>
<circle cx="341.5" cy="314.9" r="1.6"/>
<circle cx="345.0" cy="313.1" r="1.6"/>
<circle cx="348.5" cy="315.4" r="1.6"/>
<circle cx="352.0" cy="313.9" r="1.6"/>
<circle cx="355.4" cy="310.9" r="1.6"/>
<circle cx="358.7" cy="304.4" r="1.6"/>
<circle cx="362.1" cy="303.4" r="1.6"/>
<circle cx="365.6" cy="299.7" r="1.6"/>
<circle cx="369.4" cy="300.4" r="1.6"/>
<circle cx="372.7" cy="302.9" r="1.6"/>
<circle cx="376.2" cy="302.2" r="1.6"/>
<circle cx="379.7" cy="295.7" r="1.6"/>
<circle cx="383.2" cy="296.4" r="1.6"/>
<circle cx="386.7" cy="299.9" r="1.6"/>
<circle cx="390.2" cy="297.1" r="1.6"/>
<circle cx="393.7" cy="299.7" r="1.6"/>
<circle cx="397.4" cy="297.2" r="1.6"/>
<circle cx="401.2" cy="295.7" r="1.6"/>
<circle cx="404.7" cy="298.2" r="1.6"/>
<circle cx="408.3" cy="297.4" r="1.6"/>
<circle cx="412.0" cy="295.9" r="1.6"/>
<circle cx="415.5" cy="300.4" r="1.6"/>
<circle cx="419.0" cy="294.7" r="1.6"/>
<circle cx="422.4" cy="297.4" r="1.6"/>
<circle cx="426.1" cy="298.1" r="1.6"/>
<circle cx="429.7" cy="295.7" r="1.6"/>
<circle cx="433.1" cy="299.1" r="1.6"/>
<circle cx="436.9" cy="299.4" r="1.6"/>
<circle cx="440.4" cy="300.4" r="1.6"/>
<circle cx="443.9" cy="301.9" r="1.6"/>
<circle cx="447.6" cy="300.7" r="1.6"/>
<circle cx="451.2" cy="300.4" r="1.6"/>
<circle cx="454.9" cy="296.7" r="1.6"/>
<circle cx="458.4" cy="302.7" r="1.6"/>
<circle cx="462.1" cy="295.7" r="1.6"/>
<circle cx="465.8" cy="298.9" r="1.6"/>
<circle cx="469.5" cy="295.9" r="1.6"/>
<circle cx="473.3" cy="296.7" r="1.6"/>
<circle cx="476.8" cy="301.1" r="1.6"/>
<circle cx="480.3" cy="303.1" r="1.6"/>
<circle cx="484.0" cy="304.4" r="1.6"/>
<circle cx="487.4" cy="300.9" r="1.6"/>
<circle cx="491.2" cy="302.7" r="1.6"/>
<circle cx="494.9" cy="301.1" r="1.6"/>
<circle cx="496.9" cy="298.4" r="1.6"/>
<circle cx="500.9" cy="302.4" r="1.6"/>
<circle cx="504.7" cy="305.4" r="1.6"/>
<circle cx="508.6" cy="302.9" r="1.6"/>
<circle cx="512.1" cy="301.4" r="1.6"/>
<circle cx="516.8" cy="299.0" r="1.6"/>
<circle cx="520.4" cy="301.6" r="1.6"/>
<circle cx="524.0" cy="298.5" r="1.6"/>
<circle cx="527.7" cy="291.9" r="1.6"/>
<circle cx="532.0" cy="286.7" r="1.6"/>
<circle cx="536.0" cy="283.9" r="1.6"/>
<circle cx="539.8" cy="281.7" r="1.6"/>
<circle cx="543.9" cy="279.4" r="1.6"/>
<circle cx="547.7" cy="277.7" r="1.6"/>
<circle cx="551.4" cy="278.7" r="1.6"/>
<circle cx="555.1" cy="280.7" r="1.6"/>
<circle cx="559.4" cy="281.7" r="1.6"/>
<circle cx="563.1" cy="284.4" r="1.6"/>
<circle cx="566.9" cy="289.9" r="1.6"/>
<circle cx="570.7" cy="291.9" r="1.6"/>
<circle cx="574.9" cy="295.7" r="1.6"/>
<circle cx="578.7" cy="296.7" r="1.6"/>
<circle cx="582.3" cy="295.8" r="1.6"/>
<circle cx="586.2" cy="296.7" r="1.6"/>
<circle cx="590.5" cy="298.2" r="1.6"/>
<circle cx="594.2" cy="299.9" r="1.6"/>
<circle cx="598.0" cy="301.4" r="1.6"/>
<circle cx="602.2" cy="303.4" r="1.6"/>
<circle cx="606.1" cy="302.7" r="1.6"/>
<circle cx="609.7" cy="302.1" r="1.6"/>
<circle cx="613.7" cy="300.7" r="1.6"/>
<circle cx="617.7" cy="298.5" r="1.6"/>
<circle cx="621.4" cy="300.1" r="1.6"/>
<circle cx="625.3" cy="299.4" r="1.6"/>
<circle cx="629.0" cy="296.4" r="1.6"/>
<circle cx="633.4" cy="299.8" r="1.6"/>
<circle cx="637.2" cy="297.4" r="1.6"/>
<circle cx="641.0" cy="297.0" r="1.6"/>
<circle cx="644.5" cy="298.9" r="1.6"/>
<circle cx="648.2" cy="297.0" r="1.6"/>
<circle cx="652.7" cy="293.7" r="1.6"/>
</g>
</svg>
<svg width="685" height="501" viewBox="0 0 685 501">
<rect x="36.9" y="0.7" width="647.6" height="422.5" fill="none" stroke="#000" stroke-width="1.4"/>
<g stroke="#000" stroke-width="1.3">
<line x1="47.26" y1="423.2" x2="47.26" y2="428.4"/>
<line x1="60.24" y1="423.2" x2="60.24" y2="428.4"/>
<line x1="73.21" y1="423.2" x2="73.21" y2="428.4"/>
<line x1="86.18" y1="423.2" x2="86.18" y2="433.4"/>
<line x1="99.15" y1="423.2" x2="99.15" y2="428.4"/>
<line x1="112.12" y1="423.2" x2="112.12" y2="428.4"/>
<line x1="125.10" y1="423.2" x2="125.10" y2="428.4"/>
<line x1="138.07" y1="423.2" x2="138.07" y2="428.4"/>
<line x1="151.04" y1="423.2" x2="151.04" y2="430.9"/>
<line x1="164.01" y1="423.2" x2="164.01" y2="428.4"/>
<line x1="176.98" y1="423.2" x2="176.98" y2="428.4"/>
<line x1="189.96" y1="423.2" x2="189.96" y2="428.4"/>
<line x1="202.93" y1="423.2" x2="202.93" y2="428.4"/>
<line x1="215.90" y1="423.2" x2="215.90" y2="433.4"/>
<line x1="228.87" y1="423.2" x2="228.87" y2="428.4"/>
<line x1="241.84" y1="423.2" x2="241.84" y2="428.4"/>
<line x1="254.82" y1="423.2" x2="254.82" y2="428.4"/>
<line x1="267.79" y1="423.2" x2="267.79" y2="428.4"/>
<line x1="280.76" y1="423.2" x2="280.76" y2="430.9"/>
<line x1="293.73" y1="423.2" x2="293.73" y2="428.4"/>
<line x1="306.70" y1="423.2" x2="306.70" y2="428.4"/>
<line x1="319.68" y1="423.2" x2="319.68" y2="428.4"/>
<line x1="332.65" y1="423.2" x2="332.65" y2="428.4"/>
<line x1="345.62" y1="423.2" x2="345.62" y2="433.4"/>
<line x1="358.59" y1="423.2" x2="358.59" y2="428.4"/>
<line x1="371.56" y1="423.2" x2="371.56" y2="428.4"/>
<line x1="384.54" y1="423.2" x2="384.54" y2="428.4"/>
<line x1="397.51" y1="423.2" x2="397.51" y2="428.4"/>
<line x1="410.48" y1="423.2" x2="410.48" y2="430.9"/>
<line x1="423.45" y1="423.2" x2="423.45" y2="428.4"/>
<line x1="436.42" y1="423.2" x2="436.42" y2="428.4"/>
<line x1="449.40" y1="423.2" x2="449.40" y2="428.4"/>
<line x1="462.37" y1="423.2" x2="462.37" y2="428.4"/>
<line x1="475.34" y1="423.2" x2="475.34" y2="433.4"/>
<line x1="488.31" y1="423.2" x2="488.31" y2="428.4"/>
<line x1="501.28" y1="423.2" x2="501.28" y2="428.4"/>
<line x1="514.26" y1="423.2" x2="514.26" y2="428.4"/>
<line x1="527.23" y1="423.2" x2="527.23" y2="428.4"/>
<line x1="540.20" y1="423.2" x2="540.20" y2="430.9"/>
<line x1="553.17" y1="423.2" x2="553.17" y2="428.4"/>
<line x1="566.14" y1="423.2" x2="566.14" y2="428.4"/>
<line x1="579.12" y1="423.2" x2="579.12" y2="428.4"/>
<line x1="592.09" y1="423.2" x2="592.09" y2="428.4"/>
<line x1="605.06" y1="423.2" x2="605.06" y2="433.4"/>
<line x1="618.03" y1="423.2" x2="618.03" y2="428.4"/>
<line x1="631.00" y1="423.2" x2="631.00" y2="428.4"/>
<line x1="643.98" y1="423.2" x2="643.98" y2="428.4"/>
<line x1="656.95" y1="423.2" x2="656.95" y2="428.4"/>
<line x1="669.92" y1="423.2" x2="669.92" y2="430.9"/>
</g>
<text transform="matrix(1 0 0 1.080 0 -37.032)" x="86.18" y="462.90" font-size="22.4" text-anchor="middle">-20</text>
<text transform="matrix(1 0 0 1.080 0 -37.032)" x="215.90" y="462.90" font-size="22.4" text-anchor="middle">0</text>
<text transform="matrix(1 0 0 1.080 0 -37.032)" x="345.62" y="462.90" font-size="22.4" text-anchor="middle">20</text>
<text transform="matrix(1 0 0 1.080 0 -37.032)" x="475.34" y="462.90" font-size="22.4" text-anchor="middle">40</text>
<text transform="matrix(1 0 0 1.080 0 -37.032)" x="605.06" y="462.90" font-size="22.4" text-anchor="middle">60</text>
<text transform="matrix(1 0 0 1.045 0 -22.279)" x="291.30" y="495.10" font-size="22.8">Energy (eV)</text>
<g transform="translate(16.70,312.00) rotate(-90)"><text transform="matrix(1 0 0 1.020 0 -0.000)" x="0.00" y="0.00" font-size="22.85">Intensity (arb. units)</text></g>
<text transform="matrix(1 0 0 1.070 0 -2.065)" x="50.00" y="29.50" font-size="20.5">Am N<tspan font-size="14.3" dy="4.4" letter-spacing="0.6">4,5</tspan></text>
<text transform="matrix(1 0 0 1.070 0 -3.766)" x="49.50" y="53.80" font-size="18.5">XAS</text>
<text transform="matrix(1 0 0 1.070 0 -1.757)" x="571.30" y="25.10" font-size="18.6">AmO<tspan font-size="12" dy="3.9">2</tspan><tspan dy="-3.9"> exp</tspan></text>
<text transform="matrix(1 0 0 1.070 0 -3.444)" x="577.10" y="49.20" font-size="18.6">Am<tspan font-size="12" dy="3.9">2</tspan><tspan dy="-3.9">O</tspan><tspan font-size="12" dy="3.9">3</tspan><tspan dy="-3.9"> exp</tspan></text>
<text transform="matrix(1 0 0 1.070 0 -5.082)" x="571.30" y="72.60" font-size="18.6">AmO<tspan font-size="12" dy="3.9">2</tspan><tspan dy="-3.9"> calc</tspan></text>
<text transform="matrix(1 0 0 1.070 0 -6.762)" x="571.30" y="96.60" font-size="18.6">Am<tspan font-size="12" dy="3.9">2</tspan><tspan dy="-3.9">O</tspan><tspan font-size="12" dy="3.9">3</tspan><tspan dy="-3.9"> calc</tspan></text>

<circle cx="546.5" cy="18.9" r="6" fill="#ff0000"/>
<circle cx="546.5" cy="42.4" r="5.3" fill="none" stroke="#0000ff" stroke-width="1.4"/>
<line x1="529.3" y1="66.7" x2="563.7" y2="66.7" stroke="#ff0000" stroke-width="1.6"/>
<line x1="529.3" y1="90.3" x2="563.7" y2="90.3" stroke="#0036ff" stroke-width="1.6"/>
</svg>
</body></html>
